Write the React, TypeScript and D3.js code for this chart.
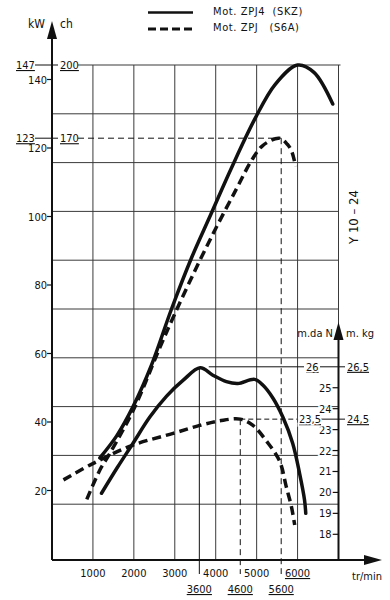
import React from 'react';
import * as d3 from 'd3';

// ---- data ----
const rpmTicks = [1000, 2000, 3000, 4000, 5000, 6000];
const rpmGrid = [1000, 2000, 3000, 4000, 5000, 6000, 7000];
const rpmMarks = [3600, 4600, 5600];
const kwTicks = [20, 40, 60, 80, 100, 120, 140];
const chGrid = [20, 40, 60, 80, 100, 120, 140, 160, 180];
const torqueTicks = [18, 19, 20, 21, 22, 23, 24, 25];

// Mot. ZPJ4 (SKZ) — solid
const rpmPowerSolid = [1170, 1580, 1980, 2430, 2920, 3410, 3860, 4390, 4960, 5450, 6000, 6400, 6860];
const powerSolid = [39, 48, 60, 77, 100, 121, 138, 158, 178, 192, 200, 197, 184];
const rpmTorqueSolid = [1210, 1600, 1980, 2390, 2800, 3200, 3620, 3930, 4260, 4540, 4950, 5150, 5400, 5640, 5880, 6050, 6170, 6200];
const torqueSolid = [19.96, 21.2, 22.35, 23.6, 24.6, 25.35, 25.95, 25.6, 25.29, 25.2, 25.4, 25.13, 24.5, 23.6, 22.35, 20.9, 19.64, 19.0];

// Mot. ZPJ (S6A) — dashed
const rpmPowerDashed = [850, 1170, 1420, 2000, 2630, 3000, 3500, 4000, 4500, 4880, 5150, 5550, 5750, 5860, 5950];
const powerDashed = [22, 34, 41, 59, 84, 98, 116, 133, 149, 161, 167, 170, 167.5, 164.5, 158.5];
const rpmTorqueDashed = [280, 1010, 1980, 2960, 3610, 4100, 4600, 4910, 5240, 5560, 5720, 5850, 5930];
const torqueDashed = [20.6, 21.39, 22.26, 22.82, 23.2, 23.42, 23.5, 23.2, 22.45, 21.5, 20.3, 19.32, 18.44];

const legendLabels = ['Mot. ZPJ4  (SKZ)', 'Mot. ZPJ   (S6A)'];

const FONT = "'Liberation Sans Narrow', 'DejaVu Sans Condensed', 'Liberation Sans', sans-serif";

export default function App() {
  const x = d3.scaleLinear().domain([0, 7000]).range([52, 338.5]);
  const yCh = d3.scaleLinear().domain([0, 200]).range([553, 65]);
  const yKw = d3.scaleLinear().domain([20, 140]).range([490.5, 79.5]);
  const yT = d3.scaleLinear().domain([18, 26]).range([534.3, 366.8]);

  const AXIS_Y = 560;
  const LEFT = x(0);
  const RIGHT = x(7000);
  const TOP = yCh(200);

  const curve = d3.curveCatmullRom.alpha(0.5);
  const mk = (rpms: number[], vals: number[], ys: d3.ScaleLinear<number, number>) =>
    d3.line<[number, number]>().x(d => x(d[0])).y(d => ys(d[1])).curve(curve)(rpms.map((r, i) => [r, vals[i]] as [number, number])) || '';

  const grid = '#3a3a3a';
  const ink = '#111';
  const halo = { stroke: 'white', strokeWidth: 3, paintOrder: 'stroke' as const };

  return (
    <svg width={390} height={600} style={{ position: 'absolute', left: 0, top: 0, background: 'white' }} fontFamily={FONT} fill={ink}>
      {/* grid verticals */}
      {rpmGrid.map(r => (
        <line key={'v' + r} x1={x(r)} x2={x(r)} y1={TOP} y2={AXIS_Y} stroke={grid} strokeWidth={1} />
      ))}
      {/* grid horizontals */}
      {chGrid.map(c => (
        <line key={'h' + c} x1={LEFT} x2={RIGHT} y1={yCh(c)} y2={yCh(c)} stroke={grid} strokeWidth={1} />
      ))}
      {/* 200 ch line */}
      <line x1={35} x2={58} y1={yCh(200)} y2={yCh(200)} stroke={ink} strokeWidth={1} />
      <line x1={78} x2={RIGHT + 2} y1={yCh(200)} y2={yCh(200)} stroke={grid} strokeWidth={1.2} />
      {/* 170 ch reference */}
      <line x1={35} x2={58} y1={yCh(170)} y2={yCh(170)} stroke={ink} strokeWidth={1} />
      <line x1={78} x2={x(5600)} y1={yCh(170)} y2={yCh(170)} stroke={ink} strokeWidth={1} strokeDasharray="6,4" />
      <line x1={x(5600)} x2={x(5600)} y1={yCh(170)} y2={574} stroke={ink} strokeWidth={1} strokeDasharray="6,4" />
      {/* torque references */}
      <line x1={x(3600)} x2={x(3600)} y1={yT(26)} y2={574} stroke={ink} strokeWidth={1} />
      <line x1={x(4600)} x2={x(4600)} y1={yT(23.5)} y2={574} stroke={ink} strokeWidth={1} strokeDasharray="6,4" />
      <line x1={x(3830)} x2={304} y1={yT(26)} y2={yT(26)} stroke={ink} strokeWidth={1} />
      <line x1={320} x2={345} y1={yT(26)} y2={yT(26)} stroke={ink} strokeWidth={1} />
      <line x1={x(4600)} x2={297} y1={yT(23.5)} y2={yT(23.5)} stroke={ink} strokeWidth={1} strokeDasharray="5,3" />
      <line x1={318} x2={345} y1={yT(23.5)} y2={yT(23.5)} stroke={ink} strokeWidth={1} />

      {/* curves */}
      <path d={mk(rpmPowerSolid, powerSolid, yCh)} fill="none" stroke={ink} strokeWidth={3.5} strokeLinecap="round" />
      <path d={mk(rpmPowerDashed, powerDashed, yCh)} fill="none" stroke={ink} strokeWidth={3.5} strokeDasharray="9,5" />
      <path d={mk(rpmTorqueSolid, torqueSolid, yT)} fill="none" stroke={ink} strokeWidth={3.5} strokeLinecap="round" />
      <path d={mk(rpmTorqueDashed, torqueDashed, yT)} fill="none" stroke={ink} strokeWidth={3.5} strokeDasharray="9,5" />

      {/* left axis */}
      <line x1={LEFT} x2={LEFT} y1={AXIS_Y} y2={36} stroke={ink} strokeWidth={2} />
      <path d={`M${LEFT},21 L${LEFT - 5},39 L${LEFT + 5},39 Z`} fill={ink} />
      <text x={45} y={28} fontSize={12} textAnchor="end">kW</text>
      <text x={60} y={28} fontSize={12}>ch</text>
      {kwTicks.map(k => (
        <g key={'k' + k}>
          <line x1={LEFT - 5} x2={LEFT} y1={yKw(k)} y2={yKw(k)} stroke={ink} strokeWidth={1.2} />
          <text x={LEFT - 5} y={yKw(k) + 4} fontSize={11} textAnchor="end">{k}</text>
        </g>
      ))}
      <text x={16} y={yCh(200) + 4} fontSize={11} textDecoration="underline">147</text>
      <text x={60} y={yCh(200) + 4} fontSize={11} textDecoration="underline">200</text>
      <text x={16} y={yCh(170) + 4} fontSize={11} textDecoration="underline">123</text>
      <text x={60} y={yCh(170) + 4} fontSize={11} textDecoration="underline">170</text>

      {/* bottom axis */}
      <line x1={LEFT} x2={366} y1={AXIS_Y} y2={AXIS_Y} stroke={ink} strokeWidth={2} />
      <path d={`M382,${AXIS_Y} L364,${AXIS_Y - 5} L364,${AXIS_Y + 5} Z`} fill={ink} />
      {rpmTicks.map(r => (
        <text key={'t' + r} x={x(r)} y={577} fontSize={11} textAnchor="middle" textDecoration={r === 6000 ? 'underline' : undefined}>{r}</text>
      ))}
      {rpmMarks.map(r => (
        <text key={'m' + r} x={x(r)} y={593} fontSize={11} textAnchor="middle" textDecoration="underline">{r}</text>
      ))}
      <text x={382} y={580} fontSize={11} textAnchor="end">tr/min</text>

      {/* torque axis */}
      <line x1={RIGHT} x2={RIGHT} y1={AXIS_Y} y2={336} stroke={ink} strokeWidth={2} />
      <path d={`M${RIGHT},322 L${RIGHT - 5},340 L${RIGHT + 5},340 Z`} fill={ink} />
      <text x={333} y={337} fontSize={11} textAnchor="end">m.da N</text>
      <text x={346} y={337} fontSize={11}>m. kg</text>
      {torqueTicks.map(t => (
        <g key={'q' + t}>
          <line x1={RIGHT - 6} x2={RIGHT} y1={yT(t)} y2={yT(t)} stroke={ink} strokeWidth={1.2} />
          <text x={RIGHT - 7} y={yT(t) + 4} fontSize={11} textAnchor="end" {...halo}>{t}</text>
        </g>
      ))}
      <text x={306} y={yT(26) + 4} fontSize={11} textDecoration="underline" {...halo}>26</text>
      <text x={347} y={yT(26) + 4} fontSize={11} textDecoration="underline">26,5</text>
      <text x={299} y={yT(23.5) + 4} fontSize={11} textDecoration="underline" {...halo}>23,5</text>
      <text x={347} y={yT(23.5) + 4} fontSize={11} textDecoration="underline">24,5</text>

      {/* series code */}
      <text transform="translate(358,217) rotate(-90)" fontSize={13} textAnchor="middle">Y 10 – 24</text>

      {/* legend */}
      <line x1={148} x2={193} y1={12.5} y2={12.5} stroke={ink} strokeWidth={2.5} />
      <line x1={148} x2={193} y1={29} y2={29} stroke={ink} strokeWidth={3} strokeDasharray="8,4" />
      <text x={213} y={15} fontSize={11} letterSpacing={0.6} style={{ whiteSpace: 'pre' }}>{legendLabels[0]}</text>
      <text x={213} y={31} fontSize={11} letterSpacing={0.6} style={{ whiteSpace: 'pre' }}>{legendLabels[1]}</text>
    </svg>
  );
}
